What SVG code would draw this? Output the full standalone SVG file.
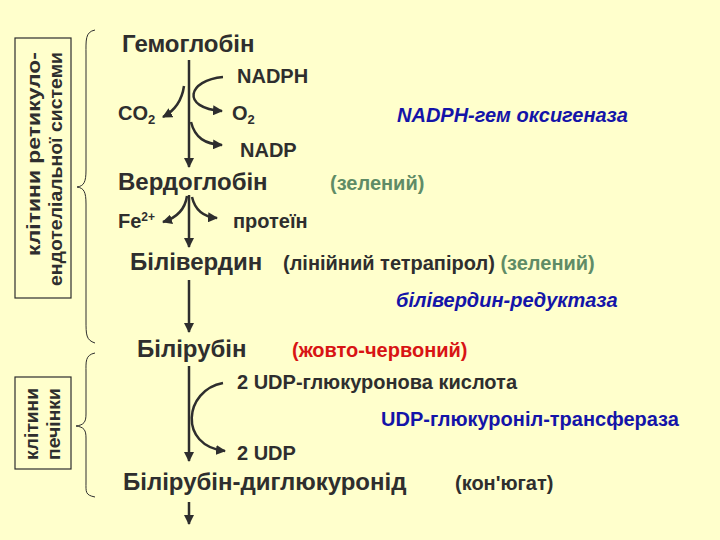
<svg xmlns="http://www.w3.org/2000/svg" width="720" height="540" viewBox="0 0 720 540">
<defs>
<marker id="ah" viewBox="0 0 10 10" refX="9" refY="5" markerWidth="4" markerHeight="4" orient="auto" markerUnits="strokeWidth">
<path d="M0,0 L10,5 L0,10 z" fill="#2e2e2e"/>
</marker>
<style>
text{font-family:"Liberation Sans",Arial,sans-serif;font-weight:bold;fill:#2e2e2e}
.big{font-size:24px}
.mid{font-size:20px}
.side{font-size:19px}
.green{fill:#5f8c66}
.red{fill:#d81414}
.blue{fill:#1414a8}
.it{font-style:italic}
.ln{fill:none;stroke:#2e2e2e;stroke-width:2.5}
.box{fill:none;stroke:#2e2e2e;stroke-width:1.2}
.brace{fill:none;stroke:#2e2e2e;stroke-width:1}
</style>
</defs>
<rect width="720" height="540" fill="#ffffcc"/>

<g id="region1">
<rect class="box" x="15" y="38" width="56" height="260"/>
<text class="side" transform="translate(40,52) rotate(-90)" text-anchor="end" textLength="204" lengthAdjust="spacingAndGlyphs">клітини ретикуло-</text>
<text class="side" transform="translate(62,52) rotate(-90)" text-anchor="end" textLength="234" lengthAdjust="spacingAndGlyphs">ендотеліальної системи</text>
<path class="brace" d="M95,30 C85,32 86,40 86,55 L86,170 C86,182 84,186 77,187 C84,188 86,192 86,204 L86,320 C86,335 86,340 95,343"/>
</g>

<g id="region2">
<rect class="box" x="15" y="377" width="56" height="92"/>
<text class="side" transform="translate(38,424) rotate(-90)" text-anchor="middle" textLength="72" lengthAdjust="spacingAndGlyphs">клітини</text>
<text class="side" transform="translate(60,424) rotate(-90)" text-anchor="middle" textLength="72" lengthAdjust="spacingAndGlyphs">печінки</text>
<path class="brace" d="M95,353 C85,355 86,362 86,372 L86,414 C86,422 84,425 76,426 C84,427 86,430 86,438 L86,482 C86,492 85,495 95,497"/>
</g>

<g id="connectors">
<path class="ln" d="M189,60 L189,167" marker-end="url(#ah)"/>
<path class="ln" d="M223,77 C188,80 180,108 222,111" marker-end="url(#ah)"/>
<path class="ln" d="M184,86 C182,100 176,110 163,117" marker-end="url(#ah)"/>
<path class="ln" d="M191,122 C195,138 205,144 222,145" marker-end="url(#ah)"/>
<path class="ln" d="M189,195 L189,247" marker-end="url(#ah)"/>
<path class="ln" d="M187,196 C185,210 176,218 163,222" marker-end="url(#ah)"/>
<path class="ln" d="M192,197 C195,210 204,217 217,218" marker-end="url(#ah)"/>
<path class="ln" d="M189,280 L189,332" marker-end="url(#ah)"/>
<path class="ln" d="M189,366 L189,461" marker-end="url(#ah)"/>
<path class="ln" d="M223,383 C184,390 178,446 225,451" marker-end="url(#ah)"/>
<path class="ln" d="M189,502 L189,524" marker-end="url(#ah)"/>
</g>

<g id="hemoglobin"><text class="big" x="122" y="52">Гемоглобін</text></g>
<g id="nadph"><text class="mid" x="237" y="83">NADPH</text></g>
<g id="co2"><text class="mid" x="118" y="120">CO<tspan font-size="13" dy="4">2</tspan></text></g>
<g id="o2"><text class="mid" x="232" y="120">O<tspan font-size="13" dy="4">2</tspan></text></g>
<g id="nadp"><text class="mid" x="240" y="157">NADP</text></g>
<g id="enzyme1"><text class="mid blue it" x="397" y="122">NADPH-гем оксигеназа</text></g>
<g id="verdoglobin"><text class="big" x="118" y="190">Вердоглобін</text></g>
<g id="green1"><text class="mid green" x="330" y="190">(зелений)</text></g>
<g id="fe"><text class="mid" x="118" y="228">Fe<tspan font-size="12" dy="-7">2+</tspan></text></g>
<g id="protein"><text class="mid" x="233" y="228">протеїн</text></g>
<g id="biliverdin"><text class="big" x="130" y="270">Білівердин</text></g>
<g id="tetrapyrrole"><text class="mid" x="283" y="270">(лінійний тетрапірол) <tspan class="green">(зелений)</tspan></text></g>
<g id="enzyme2"><text class="mid blue it" x="396" y="307">білівердин-редуктаза</text></g>
<g id="bilirubin"><text class="big" x="137" y="357">Білірубін</text></g>
<g id="red1"><text class="mid red" x="292" y="357">(жовто-червоний)</text></g>
<g id="udpga"><text class="mid" x="237" y="389">2 UDP-глюкуронова кислота</text></g>
<g id="enzyme3"><text class="mid blue" x="381" y="426">UDP-глюкуроніл-трансфераза</text></g>
<g id="udp"><text class="mid" x="237" y="460">2 UDP</text></g>
<g id="diglucuronide"><text class="big" x="123" y="490">Білірубін-диглюкуронід</text></g>
<g id="conjugate"><text class="mid" x="455" y="490">(кон'югат)</text></g>
</svg>
